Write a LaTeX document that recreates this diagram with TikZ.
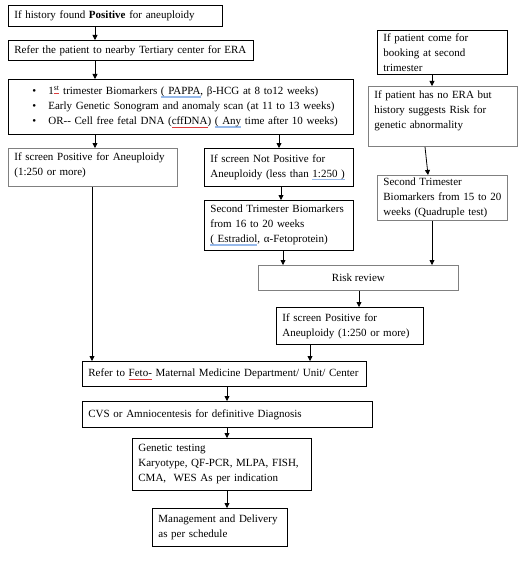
\documentclass[tikz,border=0pt]{standalone}
\usepackage{fontspec}
\setmainfont{Liberation Serif}
\usetikzlibrary{arrows.meta}
\definecolor{boxgray}{RGB}{128,128,128}
\definecolor{ulblue}{RGB}{150,185,235}
\definecolor{ulred}{RGB}{220,60,60}
\newcommand{\blueul}[1]{\setbox0\hbox{#1}\leavevmode\rlap{\color{ulblue}\rule[-3pt]{\wd0}{1.6pt}}\box0\relax}
\newcommand{\redul}[1]{\setbox0\hbox{#1}\leavevmode\rlap{\color{ulred}\rule[-2.5pt]{\wd0}{0.5pt}}\box0\relax}
\hyphenpenalty=10000
\exhyphenpenalty=10000
\begin{document}
\begin{tikzpicture}[x=1pt,y=-1pt,
  font=\fontsize{11}{15}\selectfont,
  box/.style={draw=black, line width=0.8pt, anchor=north west, inner xsep=6pt, inner ysep=2pt, align=left},
  gbox/.style={box, draw=boxgray},
  arr/.style={-{Triangle[length=5pt,width=5pt]}, line width=0.8pt}]
\useasboundingbox[fill=white] (0,0) rectangle (518,567);

\node[box, minimum width=214pt, minimum height=21pt, text width=202pt] (b1) at (8,5)
  {If history found \textbf{Positive} for aneuploidy};
\node[box, minimum width=245pt, minimum height=20pt, text width=233pt] (b2) at (8,40)
  {Refer the patient to nearby Tertiary center for ERA};
\node[box, minimum width=345pt, minimum height=55pt, text width=333pt] (b3) at (8,79)
  {\hspace*{18pt}\makebox[16pt][l]{•}1\textsuperscript{\redul{st}} trimester Biomarkers \blueul{( PAPPA}, β-HCG at 8 to12 weeks)\\
   \hspace*{18pt}\makebox[16pt][l]{•}Early Genetic Sonogram and anomaly scan (at 11 to 13 weeks)\\
   \hspace*{18pt}\makebox[16pt][l]{•}OR-{}- Cell free fetal DNA (\redul{cffDNA}) \blueul{( Any} time after 10 weeks)};
\node[gbox, minimum width=169pt, minimum height=38pt, text width=157pt] (b4) at (8,148)
  {\parbox[c][34pt][t]{157pt}{\strut If screen Positive for Aneuploidy\\(1:250 or more)}};
\node[box, minimum width=149pt, minimum height=38pt, text width=137pt] (b5) at (204,148)
  {If screen Not Positive for\\Aneuploidy (less than \blueul{1:250 )}};
\node[box, minimum width=149pt, minimum height=50pt, text width=137pt] (b6) at (204,200)
  {Second Trimester Biomarkers\\from 16 to 20 weeks\\\blueul{( Estradiol}, α-Fetoprotein)};
\node[gbox, minimum width=200pt, minimum height=25pt, align=center] (risk) at (258,265)
  {Risk review};
\node[box, minimum width=147pt, minimum height=37pt, text width=135pt] (pos2) at (276,307)
  {If screen Positive for\\Aneuploidy (1:250 or more)};
\node[box, minimum width=280pt, minimum height=25pt, text width=272pt] (feto) at (82,361)
  {Refer to \redul{Feto-} Maternal Medicine Department/ Unit/ Center};
\node[box, minimum width=290pt, minimum height=26pt, text width=278pt] (cvs) at (82,401)
  {CVS or Amniocentesis for definitive Diagnosis};
\node[box, minimum width=179pt, minimum height=52pt, text width=167pt] (gen) at (132,438)
  {Genetic testing\\Karyotype, QF-PCR, MLPA, FISH,\\CMA, \ WES As per indication};
\node[box, minimum width=135pt, minimum height=38pt, text width=123pt] (mgmt) at (152,508)
  {Management and Delivery\\as per schedule};
\node[box, minimum width=130pt, minimum height=44pt, text width=118pt] (book) at (377,30)
  {If patient come for\\booking at second\\trimester};
\node[gbox, minimum width=149pt, minimum height=60pt, text width=137pt] (noera) at (368,86)
  {\parbox[c][56pt][t]{137pt}{\strut If patient has no ERA but\\history suggests Risk for\\genetic abnormality}};
\node[gbox, minimum width=130pt, minimum height=45pt, text width=118pt] (quad) at (377,175)
  {Second Trimester\\Biomarkers from 15 to 20\\weeks (Quadruple test)};

\coordinate (x92) at (92,0);
\coordinate (x95) at (95,0);
\coordinate (x279) at (279,0);
\coordinate (x281) at (281,0);
\coordinate (x283) at (283,0);
\coordinate (x310) at (310,0);
\coordinate (x359) at (359,0);
\coordinate (x425) at (425,0);
\coordinate (x428) at (428,0);
\coordinate (x432) at (432,0);
\coordinate (x227) at (227,0);

\draw[arr] (b1.south -| x95) -- (b2.north -| x95);
\draw[arr] (b2.south -| x95) -- (b3.north -| x95);
\draw[arr] (b3.south -| x95) -- (b4.north -| x95);
\draw[arr] (b3.south -| x279) -- (b5.north -| x279);
\draw[arr] (b5.south -| x281) -- (b6.north -| x281);
\draw[arr] (b6.south -| x283) -- (risk.north -| x283);
\draw[arr] (book.south -| x432) -- (noera.north -| x432);
\draw[arr] (noera.south -| x425) -- (quad.north -| x428);
\draw[arr] (quad.south -| x432) -- (risk.north -| x432);
\draw[arr] (risk.south -| x359) -- (pos2.north -| x359);
\draw[arr] (b4.south -| x92) -- (feto.north -| x92);
\draw[arr] (pos2.south -| x310) -- (feto.north -| x310);
\draw[arr] (feto.south -| x227) -- (cvs.north -| x227);
\draw[arr] (cvs.south -| x227) -- (gen.north -| x227);
\draw[arr] (gen.south -| x227) -- (mgmt.north -| x227);
\end{tikzpicture}
\end{document}
